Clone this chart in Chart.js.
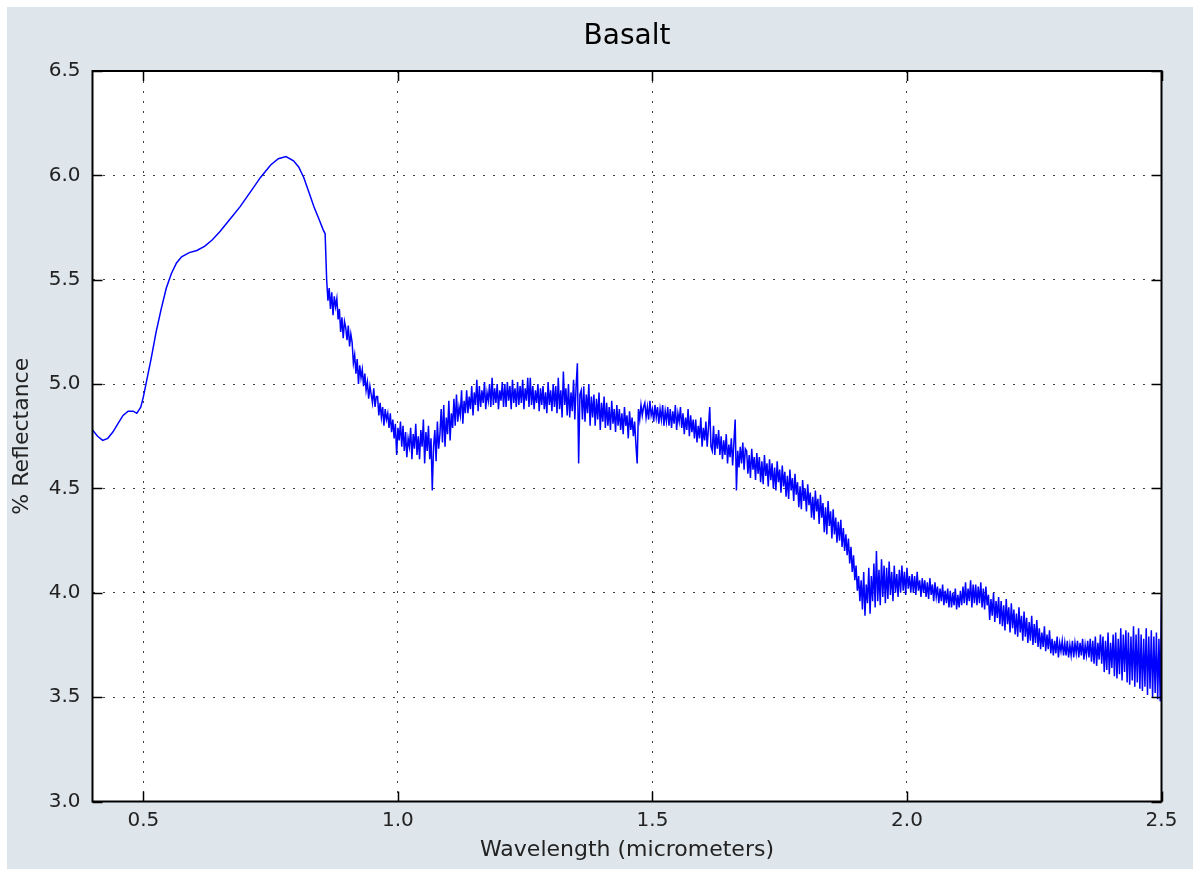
<!DOCTYPE html>
<html>
<head>
<meta charset="utf-8">
<script src="https://cdn.jsdelivr.net/npm/chart.js@4.4.1/dist/chart.umd.min.js"></script>
<style>
    html, body { margin: 0; padding: 0; background: #ffffff; }
    .chart-box {
        position: absolute;
        left: 7px;
        top: 7px;
        width: 1186px;
        height: 862px;
        background: #dee5eb;
    }
</style>
</head>
<body>
<div class="chart-box"><canvas id="basalt-chart"></canvas></div>
<script>
    // Smooth visible/NIR part of the spectrum
    const smoothWavelength = [
        0.400, 0.410, 0.420, 0.430, 0.440, 0.450, 0.460, 0.470, 0.480, 0.487,
        0.495, 0.500, 0.505, 0.515, 0.525, 0.535, 0.545, 0.555, 0.565, 0.575,
        0.590, 0.605, 0.620, 0.635, 0.650, 0.670, 0.690, 0.710, 0.730, 0.750,
        0.765, 0.780, 0.795, 0.805, 0.815, 0.825, 0.835, 0.845, 0.853, 0.857
    ];
    const smoothReflectance = [
        4.78, 4.75, 4.73, 4.74, 4.77, 4.81, 4.85, 4.87, 4.87, 4.86,
        4.89, 4.94, 5.00, 5.12, 5.25, 5.36, 5.46, 5.53, 5.58, 5.61,
        5.63, 5.64, 5.66, 5.69, 5.73, 5.79, 5.85, 5.92, 5.99, 6.05,
        6.08, 6.09, 6.07, 6.04, 5.99, 5.92, 5.85, 5.79, 5.74, 5.72
    ];

    // Noisy detector part, sampled every 0.0025 um from 0.86 um (one row = 0.025 um)
    const noisyStart = 0.86;
    const noisyStep = 0.0025;
    const noisyReflectance = [
        5.50, 5.40, 5.46, 5.36, 5.44, 5.33, 5.42, 5.37, 5.41, 5.31,
        5.36, 5.25, 5.32, 5.22, 5.30, 5.27, 5.21, 5.28, 5.18, 5.24,
        5.20, 5.10, 5.14, 5.05, 5.12, 5.00, 5.09, 5.03, 5.07, 4.99,
        5.05, 4.97, 5.01, 4.93, 4.99, 4.95, 4.91, 4.98, 4.89, 4.94,
        4.94, 4.85, 4.91, 4.84, 4.89, 4.80, 4.88, 4.83, 4.86, 4.79,
        4.86, 4.77, 4.83, 4.74, 4.81, 4.66, 4.79, 4.73, 4.82, 4.70,
        4.80, 4.68, 4.77, 4.65, 4.74, 4.70, 4.79, 4.64, 4.76, 4.69,
        4.81, 4.66, 4.75, 4.64, 4.78, 4.70, 4.83, 4.62, 4.77, 4.68,
        4.80, 4.64, 4.74, 4.49, 4.70, 4.78, 4.63, 4.82, 4.69, 4.76,
        4.88, 4.72, 4.90, 4.70, 4.84, 4.76, 4.92, 4.73, 4.86, 4.79,
        4.93, 4.80, 4.95, 4.82, 4.89, 4.85, 4.97, 4.81, 4.92, 4.86,
        4.97, 4.86, 4.94, 4.88, 4.99, 4.85, 4.96, 4.90, 5.02, 4.87,
        4.99, 4.89, 4.97, 4.91, 5.01, 4.88, 4.96, 4.92, 5.00, 4.89,
        5.03, 4.90, 4.98, 4.91, 5.00, 4.88, 4.97, 4.92, 5.01, 4.89,
        5.00, 4.89, 5.01, 4.92, 4.99, 4.88, 5.02, 4.91, 4.98, 4.89,
        5.01, 4.90, 4.99, 4.91, 5.02, 4.88, 4.98, 4.92, 5.03, 4.89,
        5.03, 4.90, 4.99, 4.88, 4.97, 4.91, 5.00, 4.87, 4.98, 4.90,
        4.99, 4.88, 4.96, 4.86, 5.01, 4.90, 4.97, 4.87, 5.00, 4.89,
        4.99, 4.86, 5.03, 4.88, 4.97, 4.84, 5.06, 4.90, 4.98, 4.85,
        5.00, 4.84, 4.96, 4.87, 5.02, 4.83, 4.99, 5.10, 4.62, 4.95,
        4.97, 4.83, 4.99, 4.82, 4.95, 4.86, 5.00, 4.80, 4.94, 4.84,
        4.95, 4.80, 4.93, 4.83, 4.96, 4.78, 4.91, 4.82, 4.94, 4.79,
        4.91, 4.80, 4.89, 4.78, 4.92, 4.81, 4.88, 4.77, 4.90, 4.80,
        4.88, 4.78, 4.86, 4.76, 4.89, 4.80, 4.85, 4.74, 4.87, 4.78,
        4.84, 4.75, 4.82, 4.71, 4.62, 4.88, 4.83, 4.90, 4.85, 4.89,
        4.91, 4.84, 4.89, 4.83, 4.92, 4.85, 4.88, 4.82, 4.90, 4.84,
        4.89, 4.81, 4.88, 4.83, 4.90, 4.80, 4.87, 4.82, 4.89, 4.80,
        4.88, 4.79, 4.87, 4.81, 4.90, 4.78, 4.86, 4.82, 4.89, 4.79,
        4.86, 4.76, 4.84, 4.78, 4.88, 4.75, 4.85, 4.77, 4.83, 4.74,
        4.83, 4.72, 4.80, 4.74, 4.84, 4.70, 4.79, 4.73, 4.82, 4.70,
        4.79, 4.89, 4.70, 4.68, 4.80, 4.66, 4.76, 4.69, 4.78, 4.66,
        4.75, 4.64, 4.73, 4.66, 4.76, 4.62, 4.71, 4.65, 4.74, 4.61,
        4.72, 4.83, 4.49, 4.68, 4.60, 4.70, 4.62, 4.72, 4.59, 4.69,
        4.68, 4.57, 4.66, 4.55, 4.69, 4.59, 4.65, 4.54, 4.67, 4.57,
        4.65, 4.53, 4.63, 4.52, 4.66, 4.56, 4.62, 4.51, 4.64, 4.54,
        4.62, 4.50, 4.60, 4.49, 4.63, 4.53, 4.59, 4.48, 4.61, 4.51,
        4.58, 4.46, 4.56, 4.45, 4.59, 4.49, 4.55, 4.44, 4.57, 4.47,
        4.53, 4.41, 4.51, 4.40, 4.54, 4.44, 4.50, 4.39, 4.52, 4.42,
        4.48, 4.36, 4.46, 4.35, 4.49, 4.39, 4.45, 4.33, 4.47, 4.36,
        4.43, 4.29, 4.41, 4.28, 4.44, 4.32, 4.39, 4.26, 4.40, 4.28,
        4.36, 4.24, 4.34, 4.25, 4.35, 4.22, 4.31, 4.20, 4.28, 4.18,
        4.26, 4.14, 4.22, 4.10, 4.18, 4.06, 4.13, 4.01, 4.08, 3.96,
        4.06, 3.92, 4.10, 3.89, 4.04, 3.95, 4.12, 3.90, 4.08, 3.96,
        4.14, 3.93, 4.20, 3.96, 4.11, 3.94, 4.16, 3.98, 4.13, 3.95,
        4.12, 3.97, 4.15, 3.99, 4.10, 3.96, 4.13, 4.00, 4.09, 3.98,
        4.11, 4.00, 4.13, 4.01, 4.10, 3.99, 4.12, 4.02, 4.08, 4.00,
        4.09, 4.00, 4.08, 3.99, 4.10, 4.01, 4.06, 3.98, 4.07, 4.00,
        4.06, 3.98, 4.05, 3.97, 4.07, 3.99, 4.04, 3.96, 4.05, 3.98,
        4.03, 3.95, 4.02, 3.96, 4.04, 3.94, 4.01, 3.95, 4.02, 3.93,
        4.01, 3.93, 4.00, 3.94, 4.02, 3.92, 3.99, 3.93, 4.01, 3.94,
        4.03, 3.95, 4.05, 3.94, 4.02, 3.96, 4.06, 3.93, 4.04, 3.95,
        4.04, 3.94, 4.03, 3.95, 4.05, 3.93, 4.02, 3.92, 4.03, 3.94,
        3.99, 3.87, 3.97, 3.89, 4.00, 3.86, 3.96, 3.88, 3.98, 3.85,
        3.96, 3.84, 3.94, 3.82, 3.97, 3.85, 3.93, 3.81, 3.95, 3.83,
        3.92, 3.80, 3.90, 3.79, 3.93, 3.81, 3.89, 3.77, 3.91, 3.79,
        3.88, 3.76, 3.86, 3.77, 3.89, 3.75, 3.85, 3.76, 3.87, 3.74,
        3.83, 3.73, 3.81, 3.74, 3.84, 3.72, 3.80, 3.73, 3.82, 3.71,
        3.78, 3.70, 3.77, 3.71, 3.79, 3.69, 3.76, 3.72, 3.77, 3.70,
        3.76, 3.70, 3.77, 3.69, 3.75, 3.70, 3.77, 3.69, 3.76, 3.71,
        3.77, 3.69, 3.76, 3.70, 3.78, 3.68, 3.75, 3.70, 3.77, 3.69,
        3.78, 3.67, 3.77, 3.66, 3.79, 3.65, 3.76, 3.68, 3.80, 3.66,
        3.79, 3.62, 3.77, 3.63, 3.81, 3.61, 3.76, 3.64, 3.80, 3.60,
        3.81, 3.59, 3.78, 3.61, 3.83, 3.58, 3.80, 3.62, 3.82, 3.57,
        3.81, 3.56, 3.79, 3.58, 3.84, 3.55, 3.80, 3.57, 3.83, 3.54,
        3.80, 3.53, 3.78, 3.55, 3.83, 3.51, 3.79, 3.54, 3.82, 3.50,
        3.79, 3.52, 3.81, 3.49, 3.78, 3.48, 3.98
    ];

    const xTicks = [0.5, 1.0, 1.5, 2.0, 2.5];
    const yTicks = [3.0, 3.5, 4.0, 4.5, 5.0, 5.5, 6.0, 6.5];

    const spectrum = smoothWavelength.map((w, i) => ({ x: w, y: smoothReflectance[i] }));
    noisyReflectance.forEach((r, i) => {
        spectrum.push({ x: +(noisyStart + i * noisyStep).toFixed(4), y: r });
    });

    const fontFamily = "'DejaVu Sans', sans-serif";

    // matplotlib-like frame with inward ticks on all four sides
    const frameTicks = {
        id: "frameTicks",
        afterDraw(chart) {
            const { ctx, chartArea: a, scales } = chart;
            const len = 10;
            ctx.save();
            ctx.strokeStyle = "#000000";
            ctx.lineWidth = 1.5;
            ctx.beginPath();
            scales.x.ticks.forEach((t) => {
                const px = Math.round(scales.x.getPixelForValue(t.value)) + 0.5;
                ctx.moveTo(px, a.bottom);
                ctx.lineTo(px, a.bottom - len);
                ctx.moveTo(px, a.top);
                ctx.lineTo(px, a.top + len);
            });
            scales.y.ticks.forEach((t) => {
                const py = Math.round(scales.y.getPixelForValue(t.value)) + 0.5;
                ctx.moveTo(a.left, py);
                ctx.lineTo(a.left + len, py);
                ctx.moveTo(a.right, py);
                ctx.lineTo(a.right - len, py);
            });
            ctx.stroke();
            ctx.lineWidth = 2;
            ctx.strokeRect(a.left, a.top, a.right - a.left, a.bottom - a.top);
            ctx.restore();
        },
    };

    const plotBg = {
        id: "plotBg",
        beforeDraw(chart) {
            const { ctx, chartArea: a } = chart;
            ctx.save();
            ctx.fillStyle = "#ffffff";
            ctx.fillRect(a.left, a.top, a.right - a.left, a.bottom - a.top);
            ctx.restore();
        },
    };

    const ctx = document.getElementById("basalt-chart").getContext("2d");

    const basaltChart = new Chart(ctx, {
        type: "line",
        data: {
            datasets: [
                {
                    data: spectrum,
                    borderColor: "#0000ff",
                    borderWidth: 1.5,
                    pointRadius: 0,
                    tension: 0,
                    fill: false,
                },
            ],
        },
        options: {
            responsive: true,
            maintainAspectRatio: false,
            animation: false,
            layout: {
                padding: { left: 0, right: 31.5, top: 0, bottom: 0 },
            },
            plugins: {
                legend: { display: false },
                tooltip: { enabled: false },
                title: {
                    display: true,
                    text: "Basalt",
                    fullSize: false,
                    color: "#000000",
                    font: { family: fontFamily, size: 28, weight: "normal" },
                    padding: { top: 13, bottom: 17.4 },
                },
            },
            scales: {
                x: {
                    type: "linear",
                    min: 0.4,
                    max: 2.5,
                    afterBuildTicks: (scale) => {
                        scale.ticks = xTicks.map((v) => ({ value: v }));
                    },
                    afterFit: (scale) => {
                        scale.height = 67.5;
                    },
                    ticks: {
                        autoSkip: false,
                        maxRotation: 0,
                        padding: 7,
                        color: "#222222",
                        font: { family: fontFamily, size: 20 },
                        callback: (v) => Number(v).toFixed(1),
                    },
                    grid: {
                        drawTicks: false,
                        color: "rgba(0,0,0,0.75)",
                        lineWidth: 1,
                    },
                    border: { display: false, dash: [2, 8] },
                    title: {
                        display: true,
                        text: "Wavelength (micrometers)",
                        color: "#222222",
                        font: { family: fontFamily, size: 22 },
                        padding: { top: 0, bottom: 6 },
                    },
                },
                y: {
                    type: "linear",
                    min: 3.0,
                    max: 6.5,
                    afterBuildTicks: (scale) => {
                        scale.ticks = yTicks.map((v) => ({ value: v }));
                    },
                    afterFit: (scale) => {
                        scale.width = 85.5;
                    },
                    ticks: {
                        padding: 12,
                        color: "#222222",
                        font: { family: fontFamily, size: 20 },
                        callback: (v) => Number(v).toFixed(1),
                    },
                    grid: {
                        drawTicks: false,
                        color: "rgba(0,0,0,0.75)",
                        lineWidth: 1,
                    },
                    border: { display: false, dash: [2, 8] },
                    title: {
                        display: true,
                        text: "% Reflectance",
                        color: "#222222",
                        font: { family: fontFamily, size: 22 },
                        padding: { top: 2, bottom: 0 },
                    },
                },
            },
        },
        plugins: [plotBg, frameTicks],
    });
</script>
</body>
</html>
